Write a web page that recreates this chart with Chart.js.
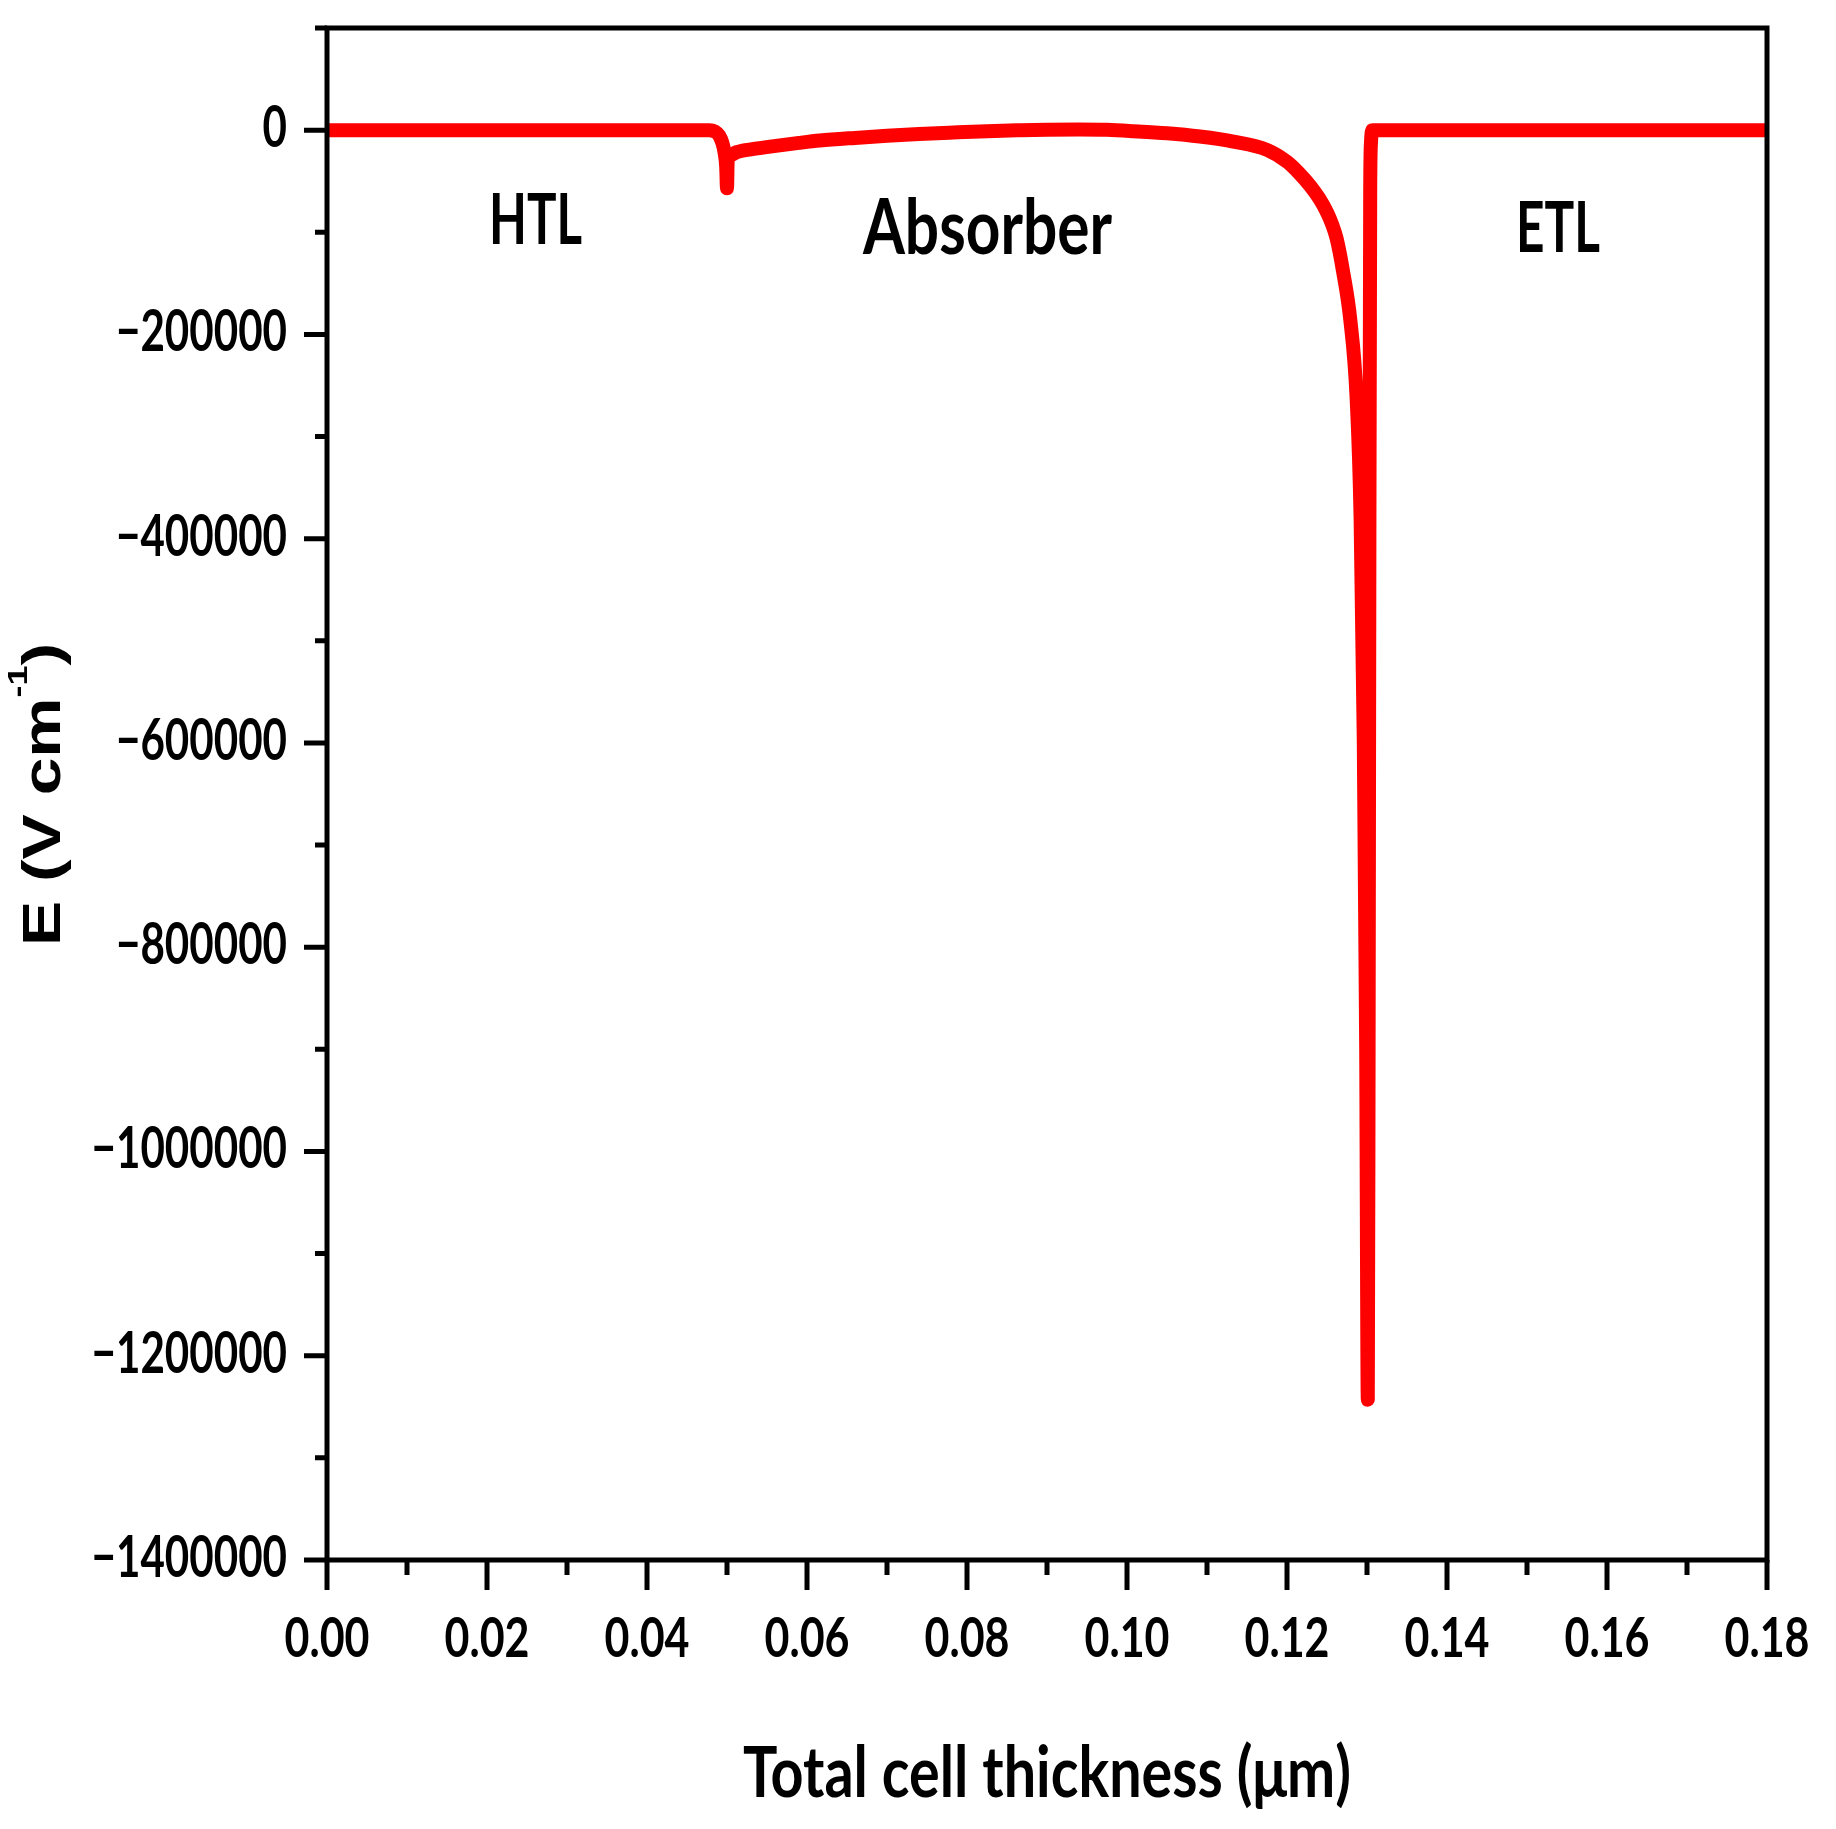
<!DOCTYPE html>
<html>
<head>
    <title>Electric field profile</title>
    <script src="https://cdn.jsdelivr.net/npm/chart.js"></script>
    <style>
        html, body {
            margin: 0;
            padding: 0;
            background: #fff;
        }
        .chart-box {
            width: 1836px;
            height: 1829px;
        }
    </style>
</head>
<body>
    <div class="chart-box">
        <canvas id="fieldChart" width="1836" height="1829"></canvas>
    </div>

    <script>
        // Electric field across the cell
        const thickness = [
            0, 0.0478, 0.0485, 0.0490, 0.0494, 0.0497, 0.0499, 0.0500,
            0.0501, 0.0505, 0.0512, 0.0530, 0.0554, 0.0590, 0.0616, 0.0660,
            0.0700, 0.0740, 0.0783, 0.0825, 0.0866, 0.0900, 0.0940, 0.0975,
            0.1008, 0.1050, 0.1091, 0.1133, 0.1175, 0.1200, 0.1215, 0.1229,
            0.1240, 0.1250, 0.1256, 0.1262, 0.1270, 0.1279, 0.1287, 0.1292,
            0.1296, 0.1299, 0.1301, 0.1302, 0.1303, 0.1304, 0.1305, 0.1307,
            0.18
        ];
        const field = [
            0, 0, -1500, -5000, -12000, -22000, -36000, -57000,
            -26500, -24500, -21600, -18800, -16100, -12500, -10200, -7600,
            -5600, -3800, -2300, -1000, -150, 400, 650, 300,
            -1000, -3100, -6300, -11200, -19300, -31000, -42000, -54500,
            -66500, -80500, -91500, -106000, -138000, -185000, -262000, -380000,
            -600000, -900000, -1243000, -900000, -400000, -60000, -12000, 0,
            0
        ];

        const xTicks = [0, 0.02, 0.04, 0.06, 0.08, 0.10, 0.12, 0.14, 0.16, 0.18];
        const yTicks = [-1400000, -1200000, -1000000, -800000, -600000, -400000, -200000, 0];

        const regionNames = ['HTL', 'Absorber', 'ETL'];
        const regionX = [0.02606, 0.08256, 0.15388];
        const regionY = [-111500, -121300, -119300];

        const face = 'Lato, "Open Sans", sans-serif';

        // the figure uses tall, condensed lettering: draw with a horizontal squeeze
        function squeezed(ctx, text, x, y, size, sx, align) {
            ctx.save();
            ctx.font = 'bold ' + size + 'px ' + face;
            ctx.translate(x, y);
            ctx.scale(sx, 1);
            ctx.textAlign = align;
            ctx.textBaseline = 'alphabetic';
            ctx.fillText(text, 0, 0);
            ctx.restore();
        }

        function widthOf(ctx, text, size) {
            ctx.font = 'bold ' + size + 'px ' + face;
            return ctx.measureText(text).width;
        }

        function yLabel(v) {
            return v === 0 ? '0' : '\u2212' + Math.abs(v);
        }

        const framePlugin = {
            id: 'frame',
            afterDraw(chart) {
                const ctx = chart.ctx;
                const area = chart.chartArea;
                const xs = chart.scales.x;
                const ys = chart.scales.y;
                ctx.save();
                ctx.strokeStyle = '#000';
                ctx.fillStyle = '#000';
                ctx.lineWidth = 5;
                ctx.lineCap = 'butt';
                ctx.strokeRect(area.left, area.top, area.right - area.left, area.bottom - area.top);

                // x ticks: major on labels, minor halfway
                ctx.beginPath();
                xTicks.forEach((v, i) => {
                    const px = xs.getPixelForValue(v);
                    ctx.moveTo(px, area.bottom);
                    ctx.lineTo(px, area.bottom + 30);
                    if (i < xTicks.length - 1) {
                        const mx = xs.getPixelForValue((v + xTicks[i + 1]) / 2);
                        ctx.moveTo(mx, area.bottom);
                        ctx.lineTo(mx, area.bottom + 15);
                    }
                });
                // y ticks
                yTicks.forEach((v) => {
                    const py = ys.getPixelForValue(v);
                    ctx.moveTo(area.left, py);
                    ctx.lineTo(area.left - 23, py);
                    const my = ys.getPixelForValue(v + 100000);
                    ctx.moveTo(area.left, my);
                    ctx.lineTo(area.left - 12, my);
                });
                ctx.stroke();

                // tick labels
                const sy = 171 / widthOf(ctx, yLabel(-200000), 58);
                ys.ticks.forEach((t) => {
                    squeezed(ctx, yLabel(t.value), area.left - 40, ys.getPixelForValue(t.value) + 17, 58, sy, 'right');
                });
                const sxl = 85 / widthOf(ctx, '0.00', 55);
                xs.ticks.forEach((t) => {
                    squeezed(ctx, t.value.toFixed(2), xs.getPixelForValue(t.value), 1657, 55, sxl, 'center');
                });

                // region labels
                const widths = [93, 249, 84];
                const sizes = [71, 76, 71];
                regionNames.forEach((name, i) => {
                    const px = xs.getPixelForValue(regionX[i]);
                    const py = ys.getPixelForValue(regionY[i]);
                    squeezed(ctx, name, px, py, sizes[i], widths[i] / widthOf(ctx, name, sizes[i]), 'center');
                });

                // x title
                const xt = 'Total cell thickness (\u03bcm)';
                squeezed(ctx, xt, (area.left + area.right) / 2, 1797, 70, 608 / widthOf(ctx, xt, 70), 'center');

                // y title, rotated, with superscript
                ctx.translate(60, 946);
                ctx.rotate(-Math.PI / 2);
                const parts = [
                    { t: 'E (V cm', size: 53, dy: 0 },
                    { t: '-1', size: 28, dy: -33 },
                    { t: ')', size: 53, dy: 0 }
                ];
                let total = 0;
                parts.forEach((p) => {
                    ctx.font = 'bold ' + p.size + 'px "Liberation Sans", Arial, sans-serif';
                    p.w = ctx.measureText(p.t).width;
                    total += p.w;
                });
                ctx.scale(303 / total, 1);
                ctx.textAlign = 'left';
                ctx.textBaseline = 'alphabetic';
                let u = 0;
                parts.forEach((p) => {
                    ctx.font = 'bold ' + p.size + 'px "Liberation Sans", Arial, sans-serif';
                    ctx.fillText(p.t, u, p.dy);
                    u += p.w;
                });
                ctx.restore();
            }
        };

        const ctx = document.getElementById('fieldChart').getContext('2d');
        const chart = new Chart(ctx, {
            type: 'line',
            data: {
                datasets: [{
                    label: 'E',
                    data: thickness.map((x, i) => ({ x: x, y: field[i] })),
                    borderColor: '#ff0000',
                    borderWidth: 14,
                    borderCapStyle: 'round',
                    borderJoinStyle: 'round',
                    pointRadius: 0,
                    fill: false,
                    cubicInterpolationMode: 'monotone'
                }]
            },
            options: {
                responsive: false,
                animation: false,
                layout: {
                    padding: { top: 28, right: 69, bottom: 0, left: 0 }
                },
                plugins: {
                    legend: { display: false },
                    tooltip: { enabled: false }
                },
                scales: {
                    x: {
                        type: 'linear',
                        min: 0,
                        max: 0.18,
                        afterBuildTicks: (s) => { s.ticks = xTicks.map((v) => ({ value: v })); },
                        afterFit: (s) => {
                            s.height = 269;
                            s.paddingLeft = 0;
                            s.paddingRight = 0;
                        },
                        grid: { display: false, drawTicks: false },
                        border: { display: false },
                        ticks: { display: false }
                    },
                    y: {
                        type: 'linear',
                        min: -1400000,
                        max: 100000,
                        afterBuildTicks: (s) => { s.ticks = yTicks.map((v) => ({ value: v })); },
                        afterFit: (s) => {
                            s.width = 327;
                            s.paddingTop = 0;
                            s.paddingBottom = 0;
                        },
                        grid: { display: false, drawTicks: false },
                        border: { display: false },
                        ticks: { display: false }
                    }
                }
            },
            plugins: [framePlugin]
        });
    </script>
</body>
</html>
